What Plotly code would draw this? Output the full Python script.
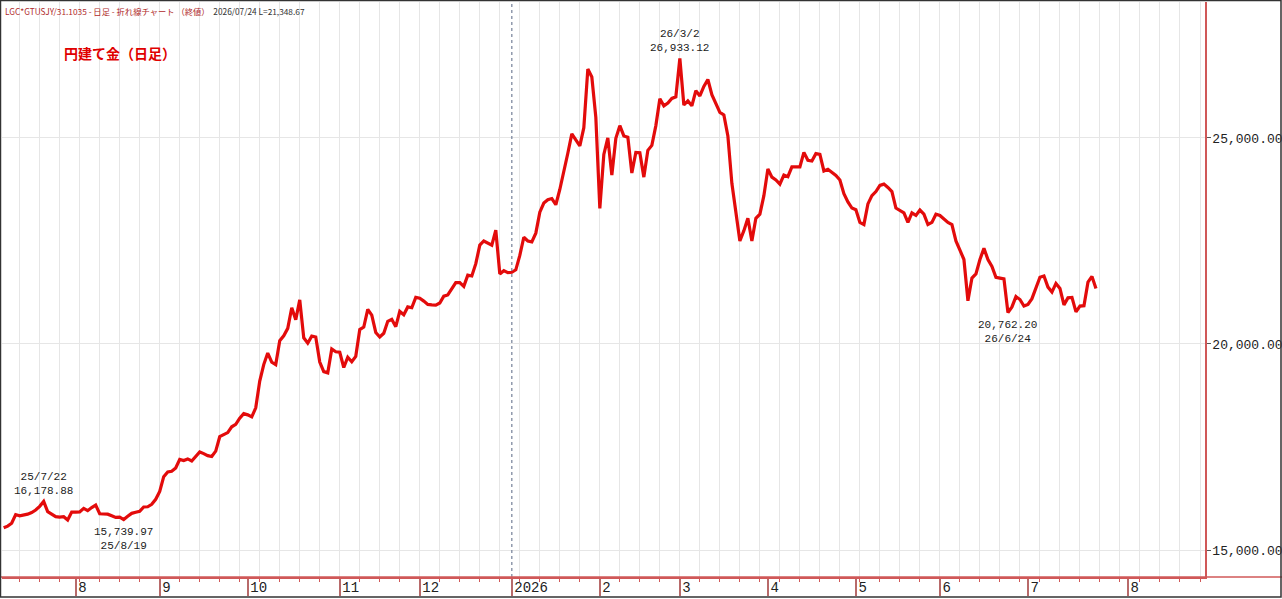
import pandas as pd
import plotly.graph_objects as go

# ---------------- data ----------------
START_DATE = "2025-07-08"
END_DATE = "2026-07-24"

prices = [
    15540, 15580, 15650, 15860, 15830, 15850, 15870, 15910, 15970, 16060,
    16178.88, 15930, 15870, 15810, 15800, 15810, 15730, 15920,
    15920, 15925, 16010, 15955, 16030, 16090, 15880, 15875, 15870, 15830,
    15790, 15800, 15739.97, 15820, 15890, 15915, 15940, 16045, 16050, 16110,
    16230, 16420, 16780, 16895, 16910, 16990, 17200, 17170, 17210, 17160,
    17260, 17380, 17340, 17290, 17270, 17400, 17750, 17800, 17850, 17990,
    18050, 18200, 18310, 18280, 18230, 18450, 19100, 19500, 19780, 19560,
    19500, 20080, 20200, 20380, 20880, 20590, 21070, 20150, 20020, 20190,
    20170, 19560, 19330, 19300, 19880, 19810, 19800, 19430, 19680, 19570,
    19700, 20350, 20410, 20840, 20700, 20280, 20170, 20260, 20550, 20600,
    20420, 20790, 20710, 20900, 20880, 21130, 21110, 21040, 20960, 20950,
    20945, 20995, 21160, 21190, 21350, 21490, 21490, 21400, 21670, 21650,
    21950, 22400, 22500, 22450, 22400, 22760, 21700, 21780, 21730, 21740,
    21800, 22150, 22590, 22500, 22480, 22690, 23200, 23420, 23500, 23530,
    23380, 23750, 24150, 24630, 25100, 24950, 24810, 25250, 26674, 26480,
    25500, 23290, 24600, 25000, 24100, 24990, 25300, 25050, 25020, 24150,
    24650, 24640, 24050, 24700, 24820, 25300, 25950, 25780, 25850, 25960,
    26000, 26933.12, 25800, 25900, 25780, 26150, 26020, 26250, 26420, 26050,
    25820, 25620, 25560, 25050, 23900, 23250, 22500, 22750, 23050, 22500,
    23050, 23150, 23600, 24250, 24050, 23980, 23880, 24100, 24060, 24300,
    24300, 24300, 24650, 24460, 24440, 24620, 24600, 24200, 24240, 24160,
    24090, 23980, 23650, 23450, 23300, 23260, 22950, 22900, 23400, 23600,
    23700, 23850, 23880, 23800, 23700, 23300, 23250, 23180, 22950, 23180,
    23120, 23250, 23150, 22900, 22950, 23150, 23120, 23030, 22950, 22900,
    22500, 22280, 22050, 21050, 21600, 21700, 22050, 22320, 22050, 21880,
    21620, 21600, 21580, 20762.20, 20900, 21150, 21080, 20920, 20960, 21100,
    21370, 21620, 21650, 21380, 21260, 21470, 21350, 20950, 21120, 21130,
    20780, 20920, 20930, 21500, 21640, 21348.67,
]

dates = [d.strftime("%Y-%m-%d") for d in pd.bdate_range(START_DATE, END_DATE)]
n = min(len(dates), len(prices))
dates = dates[:n]
prices = prices[:n]

month_tick_dates = ["2025-08-01", "2025-09-01", "2025-10-01", "2025-11-03", "2025-12-01",
                    "2026-01-01", "2026-02-02", "2026-03-02", "2026-04-01", "2026-05-01",
                    "2026-06-01", "2026-07-01", "2026-08-05"]
month_tick_labels = ["8", "9", "10", "11", "12", "2026", "2", "3", "4", "5", "6", "7", "8"]

y_tick_vals = [15000, 20000, 25000]

marks = [  # (date, value, date label, position)
    ("2025-07-22", 16178.88, "25/7/22", "above"),
    ("2025-08-19", 15739.97, "25/8/19", "below"),
    ("2026-03-02", 26933.12, "26/3/2", "above"),
    ("2026-06-24", 20762.20, "26/6/24", "below"),
]

X_RANGE = ["2025-07-07 14:00", "2026-09-01 06:00"]
Y_RANGE = [14345, 28300]

# ---------------- figure ----------------
RED_AXIS = "#d05858"
GRID = "#e6e6e6"
MONO = "Liberation Mono, DejaVu Sans Mono, monospace"
JP = "Noto Sans CJK JP, Noto Sans, sans-serif"

fig = go.Figure()
fig.add_trace(go.Scatter(
    x=dates, y=prices, mode="lines",
    line=dict(color="#e30b0b", width=3.2),
    hoverinfo="x+y", showlegend=False,
))

W, H = 1282, 599
ML, MR, MT, MB = 2, 77, 2, 22
pw = W - ML - MR
ph = H - MT - MB

fig.update_layout(
    width=W, height=H,
    margin=dict(l=ML, r=MR, t=MT, b=MB, pad=0, autoexpand=False),
    paper_bgcolor="white", plot_bgcolor="white",
    font=dict(family=MONO, color="#222222"),
    showlegend=False,
    xaxis=dict(
        type="date",
        range=X_RANGE,
        automargin=False,
        rangebreaks=[dict(bounds=["sat", "mon"])],
        tickmode="array", tickvals=month_tick_dates, ticktext=month_tick_labels,
        ticks="outside", ticklen=17, tickwidth=1.5, tickcolor="#b86a6a",
        tickfont=dict(family=MONO, size=14, color="#222222"),
        ticklabelposition="outside right",
        ticklabelshift=1, ticklabelstandoff=-4,
        showgrid=False, zeroline=False,
        showline=True, linecolor=RED_AXIS, linewidth=1.5,
        minor=dict(dtick=7 * 86400000, tick0="2025-07-07", ticks="outside",
                   ticklen=3, tickcolor=RED_AXIS, tickwidth=1,
                   showgrid=True, gridcolor=GRID, gridwidth=1.3),
        fixedrange=True,
    ),
    yaxis=dict(
        side="right", range=Y_RANGE,
        automargin=False,
        tickmode="array", tickvals=y_tick_vals, tickformat=",.2f",
        ticks="outside", ticklen=4, tickcolor="#555555",
        tickfont=dict(family=MONO, size=13, color="#222222"),
        ticklabelstandoff=-1,
        showgrid=True, gridcolor=GRID, gridwidth=1.3, zeroline=False,
        showline=True, linecolor=RED_AXIS, linewidth=1.5,
        fixedrange=True,
    ),
)

# dotted year separator
fig.add_shape(type="line", xref="x", yref="paper", x0="2026-01-01", x1="2026-01-01",
              y0=0, y1=1, line=dict(color="#7f8aa0", width=1.3, dash="dot"))

# bottom axis line extended across the full width
fig.add_shape(type="line", xref="paper", yref="paper",
              x0=-ML / pw, x1=1 + MR / pw, y0=0, y1=0,
              line=dict(color=RED_AXIS, width=1.5))

# outer frame
fig.add_shape(type="rect", xref="paper", yref="paper",
              x0=-ML / pw + 0.0004, x1=1 + (MR - 1) / pw,
              y0=-(MB - 2) / ph, y1=1 + (MT - 0.5) / ph,
              line=dict(color="#333333", width=1.5), fillcolor="rgba(0,0,0,0)")

# marked highs / lows
for d, v, lab, pos in marks:
    val = f"{v:,.2f}"
    if pos == "above":
        text = f"{lab}<br>{val}"
        fig.add_annotation(x=d, y=v, text=text, showarrow=False, yanchor="bottom",
                           yshift=2, font=dict(family=MONO, size=11, color="#222222"),
                           align="center")
    else:
        text = f"{val}<br>{lab}"
        fig.add_annotation(x=d, y=v, text=text, showarrow=False, yanchor="top",
                           yshift=-4, font=dict(family=MONO, size=11, color="#222222"),
                           align="center")

# header line
fig.add_annotation(
    xref="paper", yref="paper", x=0.001, y=1 - 1 / ph, xanchor="left", yanchor="top",
    showarrow=False,
    text=("<span style='color:#b02a2a'>LGC*GTUSJY/31.1035 - 日足 - 折れ線チャート （終値）</span>"
          "  <span style='color:#333333'>2026/07/24 L=21,348.67</span>"),
    font=dict(family=JP, size=8.3),
)

# chart title
fig.add_annotation(
    xref="paper", yref="paper", x=(62 - ML) / pw, y=1 - (53 - MT) / ph,
    xanchor="left", yanchor="middle", showarrow=False,
    text="<b>円建て金（日足）</b>",
    font=dict(family=JP, size=14, color="#e00000"),
)

fig.write_html("out.html", config={"displayModeBar": False},
               post_script="document.body.style.margin='0';document.body.style.overflow='hidden';")
